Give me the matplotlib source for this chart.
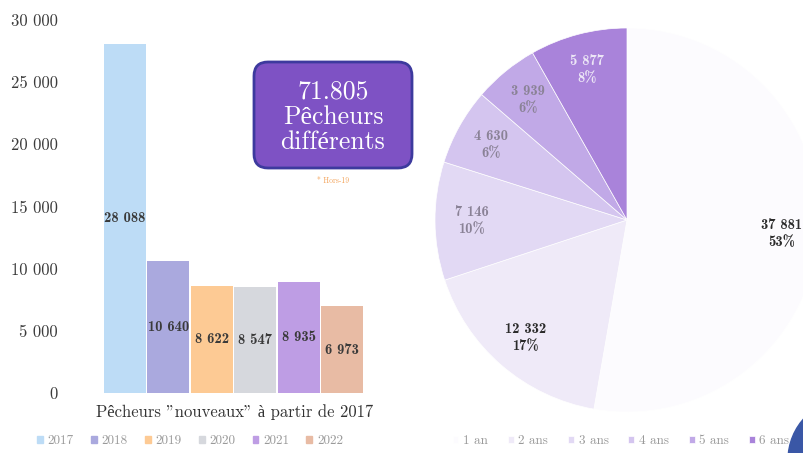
import numpy as np
import matplotlib.pyplot as plt
from matplotlib.patches import FancyBboxPatch, Circle, Patch

# data
years = ['2017', '2018', '2019', '2020', '2021', '2022']
new_fishers = [28088, 10640, 8622, 8547, 8935, 6973]
bar_colors = ['#bddcf6', '#aaa9de', '#fdca94', '#d6d8dd', '#be9de4', '#e8bba4']

age_labels = ['1 an', '2 ans', '3 ans', '4 ans', '5 ans', '6 ans']
age_counts = [37881, 12332, 7146, 4630, 3939, 5877]
age_pcts = [53, 17, 10, 6, 6, 8]  # as printed on the chart
pie_colors = ['#fcfbfe', '#efeaf8', '#e2d9f4', '#d4c5ef', '#c1a9e7', '#a983da']
pie_text_colors = ['#2b2b2b', '#2b2b2b', '#8a8296', '#8a8296', '#8a8296', '#ece6f6']

yticks = [0, 5000, 10000, 15000, 20000, 25000, 30000]
total_txt = '71.805\nPêcheurs\ndifférents'

FONT = ['cmr10', 'Liberation Serif']
BOLD = ['cmb10', 'Liberation Serif']
plt.rcParams['font.family'] = FONT
plt.rcParams['axes.unicode_minus'] = False


def fmt(v):
    return f'{v:,}'.replace(',', ' ')


W, H = 804, 453


def px(x0, y0, x1, y1):
    return [x0 / W, 1 - y1 / H, (x1 - x0) / W, (y1 - y0) / H]


fig = plt.figure(figsize=(W / 100, H / 100), dpi=100)

# bar chart
ax = fig.add_axes(px(101, 20, 366, 393))
ax.bar(range(len(years)), new_fishers, width=0.97, color=bar_colors)
ax.set_xlim(-0.55, 5.55)
ax.set_ylim(0, 30000)
ax.set_yticks(yticks)
ax.set_yticklabels([fmt(t) for t in yticks], fontsize=12, color='#3c3c3c')
ax.set_xticks([])
ax.tick_params(axis='y', length=0, pad=31)
for s in ax.spines.values():
    s.set_visible(False)
for i, v in enumerate(new_fishers):
    ax.text(i, v / 2, fmt(v), ha='center', va='center', fontsize=10.5,
            color='#3a3a3a', family=BOLD)

fig.text(235 / W, 1 - 412 / H, 'Pêcheurs "nouveaux" à partir de 2017',
         ha='center', va='center', fontsize=12, color='#333333')

handles = [Patch(color=c) for c in bar_colors]
fig.legend(handles, years, loc='center', bbox_to_anchor=(190 / W, 1 - 441 / H),
           ncol=6, frameon=False, fontsize=9.5, labelcolor='#9a9a9a',
           handlelength=0.45, handleheight=0.45, handletextpad=0.35, columnspacing=1.3)

# pie chart
ax2 = fig.add_axes(px(435, 28, 819, 412))
wedges, _ = ax2.pie(age_counts, colors=pie_colors, startangle=90, counterclock=False,
                    radius=1, wedgeprops=dict(edgecolor='white', linewidth=0.5))
ax2.set_xlim(-1, 1)
ax2.set_ylim(-1, 1)
ax2.set_aspect('equal')
ax2.axis('off')
for w, v, p, tc in zip(wedges, age_counts, age_pcts, pie_text_colors):
    ang = np.deg2rad((w.theta1 + w.theta2) / 2)
    ax2.text(0.81 * np.cos(ang), 0.81 * np.sin(ang),
             f'{fmt(v)}\n{p}%', ha='center', va='center',
             fontsize=10.5, color=tc, family=BOLD, linespacing=1.3)

fig.legend(wedges, age_labels, loc='center', bbox_to_anchor=(621 / W, 1 - 441 / H),
           ncol=6, frameon=False, fontsize=9.5, labelcolor='#9a9a9a',
           handlelength=0.45, handleheight=0.45, handletextpad=0.35, columnspacing=1.5)

# overlay for box and decoration
ov = fig.add_axes([0, 0, 1, 1])
ov.set_xlim(0, W)
ov.set_ylim(H, 0)
ov.axis('off')
box = FancyBboxPatch((254, 62), 158, 106, boxstyle='round,pad=0,rounding_size=14',
                     facecolor='#7e52c4', edgecolor='#3d3a9e', linewidth=2)
ov.add_patch(box)
ov.text(333, 117, total_txt, ha='center', va='center', fontsize=18.5,
        color='white', linespacing=1.1)
ov.text(333, 181, '* Hors-19', ha='center', va='center', fontsize=5.5, color='#f3a35a')
ov.add_patch(Circle((850, 460), 62, color='#3a57a6', clip_on=False))

fig.savefig('out.png', dpi=100)
